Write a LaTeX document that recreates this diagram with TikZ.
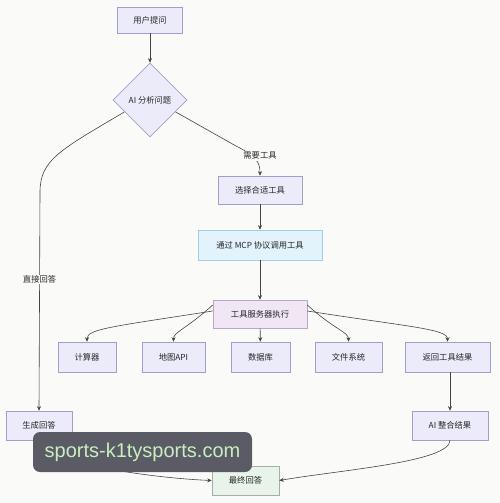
\documentclass[tikz,border=0pt]{standalone}
\usepackage{fontspec}
\setmainfont{Noto Sans CJK SC}
\newfontfamily\wmfont{Liberation Sans}
\usetikzlibrary{shapes.geometric,arrows.meta}
\definecolor{bgc}{HTML}{FAFBF8}
\definecolor{boxfill}{HTML}{ECEBFA}
\definecolor{boxline}{HTML}{A49CCB}
\definecolor{bluefill}{HTML}{E2F3FB}
\definecolor{blueline}{HTML}{9CCFE8}
\definecolor{pinkfill}{HTML}{F1E6F4}
\definecolor{pinkline}{HTML}{B9A6C8}
\definecolor{greenfill}{HTML}{E8F3EA}
\definecolor{greenline}{HTML}{A8ADA8}
\definecolor{edgec}{HTML}{444444}
\definecolor{wmbg}{HTML}{5B5B66}
\definecolor{wmtext}{HTML}{C8EEC0}
\tikzset{
  x=1pt,y=-1pt,
  every node/.style={font=\fontsize{8.3}{10}\selectfont, text=black!85},
  box/.style={draw=boxline, fill=boxfill, line width=0.6pt, minimum height=28pt, inner xsep=0pt, anchor=center},
  edge/.style={draw=edgec, line width=0.6pt, -{Stealth[length=4.5pt,width=4pt]}},
  lbl/.style={fill=bgc, inner sep=1pt}
}
\begin{document}
\begin{tikzpicture}
\fill[bgc] (0,0) rectangle (500,503);
\useasboundingbox (0,0) rectangle (500,503);

\node[box, minimum width=65pt, minimum height=26pt] (ask) at (150,20) {用户提问};
\node[diamond, draw=boxline, fill=boxfill, line width=0.6pt, minimum width=74pt, minimum height=74pt, inner sep=0pt] (ai) at (150,100) {AI 分析问题};
\node[box, minimum width=84pt] (sel) at (260,190) {选择合适工具};
\node[box, draw=blueline, fill=bluefill, minimum width=124pt, minimum height=30pt] (mcp) at (260,245) {通过 MCP 协议调用工具};
\node[box, draw=pinkline, fill=pinkfill, minimum width=94pt] (srv) at (260,314) {工具服务器执行};
\node[box, minimum width=58pt, minimum height=30pt] (calc) at (87,357) {计算器};
\node[box, minimum width=63pt, minimum height=30pt] (map) at (173.5,357) {地图API};
\node[box, minimum width=59pt, minimum height=30pt] (db) at (260.5,357) {数据库};
\node[box, minimum width=67pt, minimum height=30pt] (fs) at (348.5,357) {文件系统};
\node[box, minimum width=85pt, minimum height=30pt] (ret) at (447.5,357) {返回工具结果};
\node[box, minimum width=66pt, minimum height=29pt] (gen) at (39,425.5) {生成回答};
\node[box, minimum width=76pt, minimum height=29pt] (merge) at (450,425.5) {AI 整合结果};
\node[box, draw=greenline, fill=greenfill, minimum width=67pt, minimum height=29pt] (final) at (245.5,480.5) {最终回答};

\draw[edge] (ask) -- (ai);
\draw[edge] (ai.205) .. controls (60,150) and (40,160) .. (40,192) -- node[lbl, pos=0.4]{直接回答} (gen.north);
\coordinate (k1) at (236,146);
\draw[edge] (ai.-25) -- (k1) .. controls (256,156) and (260,162) .. (sel.north);
\node[lbl] (need) at (260,156) {需要工具};
\draw[edge] (sel) -- (mcp);
\draw[edge] (mcp) -- (srv);
\draw[edge] ([yshift=3pt]srv.west) .. controls (110,327) and (87,329) .. (calc.north);
\draw[edge] ([yshift=9pt]srv.west) .. controls (185,330) and (173.5,332) .. (map.north);
\draw[edge] (srv) -- (db);
\draw[edge] ([yshift=9pt]srv.east) .. controls (335,330) and (348.5,332) .. (fs.north);
\draw[edge] ([yshift=3pt]srv.east) .. controls (410,327) and (447.5,329) .. (ret.north);
\draw[edge] (ret.south -| merge.north) -- (merge.north);
\draw[edge] (gen.south) .. controls (40,462) and (150,478) .. (final.west);
\draw[edge] (merge.south) .. controls (450,462) and (340,470) .. (final.east);

\node[fill=wmbg, rounded corners=7pt, minimum width=219pt, minimum height=40pt, inner sep=0pt, text=wmtext, font=\wmfont\fontsize{20}{22}\selectfont] (wm) at (142.5,452) {sports-k1tysports.com};
\end{tikzpicture}
\end{document}
